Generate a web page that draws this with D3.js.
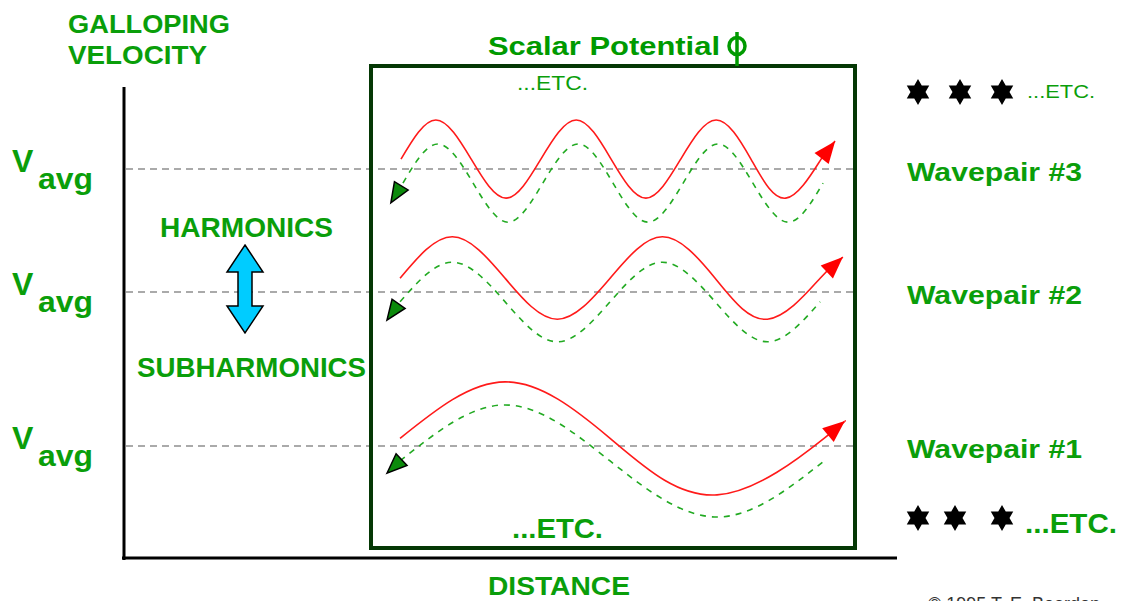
<!DOCTYPE html>
<html>
<head>
<meta charset="utf-8">
<script src="https://cdn.jsdelivr.net/npm/d3@7"></script>
<style>
body { margin: 0; background: #fff; }
text { font-family: "Liberation Sans", Arial, sans-serif; }
</style>
</head>
<body>
<script>
// chart units: distance 0..100 across the box, velocity 0..100 up the axis
var vavgLevels = [23.8, 56.5, 82.6];
var wavepairLabels = ["Wavepair #1", "Wavepair #2", "Wavepair #3"];

var red1 = [[6.0,25.4],[27.7,37.4],[49.4,25.4],[71.5,13.4],[93.6,25.4],[97.9,29.1]];
var green1 = [[6.0,20.6],[27.7,32.5],[49.4,20.6],[71.5,8.7],[93.6,20.6]];
var greenTip1 = [3.3, 18.0];

var red2 = [[6.0,59.4],[16.8,68.2],[27.7,59.4],[38.5,50.7],[49.4,59.4],[60.2,68.2],
            [71.1,59.4],[81.9,50.7],[92.8,59.4],[97.5,63.9]];
var green2 = [[6.0,54.4],[16.8,62.8],[27.7,54.4],[38.5,45.9],[49.4,54.4],[60.2,62.8],
              [71.1,54.4],[81.9,45.9],[92.8,54.4]];
var greenTip2 = [3.3, 50.5];

var red3 = [[6.2,84.7],[13.4,93.0],[20.7,84.7],[27.9,76.4],[35.1,84.7],[42.4,93.0],
            [49.6,84.7],[56.8,76.4],[64.0,84.7],[71.3,93.0],[78.5,84.7],[85.7,76.4],
            [93.0,84.7],[95.9,88.5]];
var green3 = [[6.6,79.6],[13.8,87.9],[21.1,79.6],[28.3,71.3],[35.5,79.6],[42.8,87.9],
              [50.0,79.6],[57.2,71.3],[64.5,79.6],[71.7,87.9],[78.9,79.6],[86.2,71.3],
              [93.4,79.6]];
var greenTip3 = [4.1, 75.4];

var waves = [
    {red: red1, green: green1, tip: greenTip1},
    {red: red2, green: green2, tip: greenTip2},
    {red: red3, green: green3, tip: greenTip3}
];

var GREEN = "#0a9e0a";

var svg = d3.select("body").append("svg")
    .attr("width", 1136)
    .attr("height", 601);

var x = d3.scaleLinear().domain([0, 100]).range([371, 855]);
var y = d3.scaleLinear().domain([0, 100]).range([558, 87]);

function label(txt, tx, ty, size, weight, len, color) {
    var t = svg.append("text")
        .attr("x", tx)
        .attr("y", ty)
        .attr("font-size", size)
        .attr("font-weight", weight)
        .attr("fill", color || GREEN)
        .text(txt);
    if (len) {
        t.attr("textLength", len).attr("lengthAdjust", "spacingAndGlyphs");
    }
    return t;
}

// dashed Vavg lines
svg.selectAll("line.vavg")
    .data(vavgLevels)
    .enter().append("line")
    .attr("class", "vavg")
    .attr("x1", 126)
    .attr("x2", x(100))
    .attr("y1", function (d) { return y(d); })
    .attr("y2", function (d) { return y(d); })
    .attr("stroke", "#aaaaaa")
    .attr("stroke-width", 2)
    .attr("stroke-dasharray", "7,5");

// axes
svg.append("line")
    .attr("x1", 124).attr("x2", 124)
    .attr("y1", y(100)).attr("y2", 560)
    .attr("stroke", "#000").attr("stroke-width", 3);
svg.append("line")
    .attr("x1", 122).attr("x2", 897)
    .attr("y1", 558).attr("y2", 558)
    .attr("stroke", "#000").attr("stroke-width", 3);

// the box
svg.append("rect")
    .attr("x", x(0)).attr("y", 66)
    .attr("width", x(100) - x(0)).attr("height", 548 - 66)
    .attr("fill", "none")
    .attr("stroke", "#053805")
    .attr("stroke-width", 4);

// title with phi
label("Scalar Potential", 488, 55, 25, "bold", 232, "#009a00");
svg.append("line")
    .attr("x1", 737).attr("x2", 737)
    .attr("y1", 32).attr("y2", 66)
    .attr("stroke", "#009a00").attr("stroke-width", 3.5);
svg.append("ellipse")
    .attr("cx", 737).attr("cy", 46)
    .attr("rx", 8).attr("ry", 8.5)
    .attr("fill", "none")
    .attr("stroke", "#009a00").attr("stroke-width", 3.5);

var line = d3.line()
    .x(function (d) { return x(d[0]); })
    .y(function (d) { return y(d[1]); })
    .curve(d3.curveNatural);

function arrowHead(tipPx, fromPx, len, half, fill, stroke) {
    var dx = tipPx[0] - fromPx[0], dy = tipPx[1] - fromPx[1];
    var n = Math.sqrt(dx * dx + dy * dy);
    dx /= n; dy /= n;
    var bx = tipPx[0] - dx * len, by = tipPx[1] - dy * len;
    var pts = [tipPx,
        [bx - dy * half, by + dx * half],
        [bx + dy * half, by - dx * half]];
    svg.append("path")
        .attr("d", "M" + pts.join("L") + "Z")
        .attr("fill", fill)
        .attr("stroke", stroke || "none")
        .attr("stroke-width", 1.5)
        .attr("stroke-linejoin", "miter");
}

waves.forEach(function (w) {
    svg.append("path")
        .attr("d", line(w.green))
        .attr("fill", "none")
        .attr("stroke", "#22aa22")
        .attr("stroke-width", 1.6)
        .attr("stroke-dasharray", "6,6");
    svg.append("path")
        .attr("d", line(w.red))
        .attr("fill", "none")
        .attr("stroke", "#ff1a1a")
        .attr("stroke-width", 1.6);

    var r = w.red;
    var tip = [x(r[r.length - 1][0]), y(r[r.length - 1][1])];
    var prev = [x(r[r.length - 2][0]), y(r[r.length - 2][1])];
    arrowHead(tip, prev, 22, 9, "#ff0000");

    var gtip = [x(w.tip[0]), y(w.tip[1])];
    var gfrom = [x(w.green[0][0]), y(w.green[0][1])];
    arrowHead(gtip, gfrom, 20, 8, "#0c8a0c", "#000");
});

// Vavg labels
vavgLevels.forEach(function (v) {
    label("V", 12, y(v) + 3, 32, "bold");
    label("avg", 38, y(v) + 20, 30, "bold", 55);
});

// wavepair labels
wavepairLabels.forEach(function (t, i) {
    label(t, 907, y(vavgLevels[i]) + 12, 26, "bold", 175);
});

label("GALLOPING", 68, 33, 26, "bold", 162);
label("VELOCITY", 68, 64, 26, "bold", 139);
label("HARMONICS", 160, 237, 28, "bold", 173);
label("SUBHARMONICS", 137, 377, 28, "bold", 229);
label("DISTANCE", 488, 595, 26, "bold", 142);
label("...ETC.", 517, 90, 20, "normal", 71);
label("...ETC.", 512, 538, 28, "bold", 91);
label("...ETC.", 1027, 98, 18, "normal", 68);
label("...ETC.", 1025, 533, 28, "bold", 92);
label("\u00a9 1995 T. E. Bearden", 928, 610, 18, "normal", null, "#333");

// cyan double arrow
(function () {
    var cx = 245, top = 245, bot = 333, head = 27, hh = 18, sh = 7;
    var pts = [[cx, top], [cx + hh, top + head], [cx + sh, top + head],
        [cx + sh, bot - head], [cx + hh, bot - head], [cx, bot],
        [cx - hh, bot - head], [cx - sh, bot - head], [cx - sh, top + head],
        [cx - hh, top + head]];
    svg.append("path")
        .attr("d", "M" + pts.join("L") + "Z")
        .attr("fill", "#00ccff")
        .attr("stroke", "#000")
        .attr("stroke-width", 1.5);
})();

// black six-point stars
var starRows = [{cy: 92, xs: [918, 960, 1002]}, {cy: 518, xs: [918, 955, 1002]}];
function starPath(r1, r2) {
    var pts = d3.range(12).map(function (i) {
        var a = i * Math.PI / 6 - Math.PI / 2;
        var r = i % 2 ? r2 : r1;
        return [r * Math.cos(a), r * Math.sin(a)];
    });
    return "M" + pts.join("L") + "Z";
}
starRows.forEach(function (row) {
    svg.selectAll(null)
        .data(row.xs)
        .enter().append("path")
        .attr("d", starPath(13, 7.5))
        .attr("transform", function (d) { return "translate(" + d + "," + row.cy + ")"; })
        .attr("fill", "#000");
});
</script>
</body>
</html>
